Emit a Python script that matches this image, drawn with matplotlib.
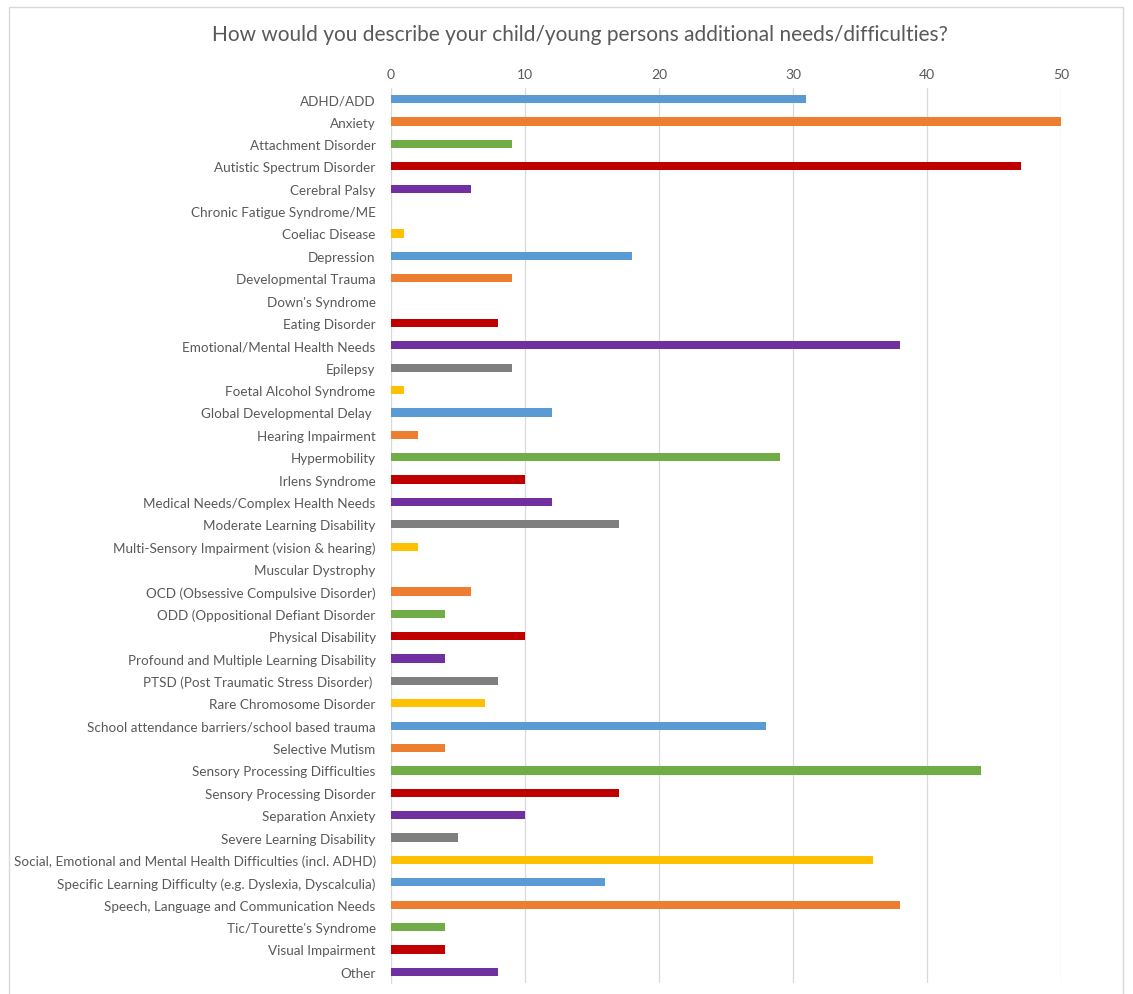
import matplotlib.pyplot as plt
from matplotlib.patches import Rectangle

# Survey answers: number of respondents per additional need / difficulty
categories = [
    "ADHD/ADD", "Anxiety", "Attachment Disorder", "Autistic Spectrum Disorder",
    "Cerebral Palsy", "Chronic Fatigue Syndrome/ME", "Coeliac Disease", "Depression",
    "Developmental Trauma", "Down's Syndrome", "Eating Disorder",
    "Emotional/Mental Health Needs", "Epilepsy", "Foetal Alcohol Syndrome",
    "Global Developmental Delay ", "Hearing Impairment", "Hypermobility",
    "Irlens Syndrome", "Medical Needs/Complex Health Needs",
    "Moderate Learning Disability", "Multi-Sensory Impairment (vision & hearing)",
    "Muscular Dystrophy", "OCD (Obsessive Compulsive Disorder)",
    "ODD (Oppositional Defiant Disorder", "Physical Disability",
    "Profound and Multiple Learning Disability", "PTSD (Post Traumatic Stress Disorder) ",
    "Rare Chromosome Disorder", "School attendance barriers/school based trauma",
    "Selective Mutism", "Sensory Processing Difficulties", "Sensory Processing Disorder",
    "Separation Anxiety", "Severe Learning Disability",
    "Social, Emotional and Mental Health Difficulties (incl. ADHD)",
    "Specific Learning Difficulty (e.g. Dyslexia, Dyscalculia)",
    "Speech, Language and Communication Needs", "Tic/Tourette's Syndrome",
    "Visual Impairment", "Other",
]
counts = [
    31, 50, 9, 47, 6, 0, 1, 18, 9, 0, 8, 38, 9, 1, 12, 2, 29, 10, 12, 17,
    2, 0, 6, 4, 10, 4, 8, 7, 28, 4, 44, 17, 10, 5, 36, 16, 38, 4, 4, 8,
]
x_ticks = [0, 10, 20, 30, 40, 50]

# Excel-style colour cycle
palette = ["#5B9BD5", "#ED7D31", "#70AD47", "#C00000", "#7030A0", "#7F7F7F", "#FFC000"]
colors = [palette[i % len(palette)] for i in range(len(categories))]

plt.rcParams["font.family"] = ["Lato", "DejaVu Sans"]
text_color = "#595959"

fig = plt.figure(figsize=(11.33, 9.95), dpi=100)

# light chart-area border
fig.patches.append(Rectangle((9 / 1133, -0.01), (1123 - 9) / 1133, 1 - 8 / 995 + 0.01,
                             transform=fig.transFigure, fill=False,
                             edgecolor="#D9D9D9", linewidth=1))

ax = fig.add_axes([391 / 1133, 1 - 984 / 995, (1061 - 391) / 1133, (984 - 89) / 995])
y = list(range(len(categories)))
ax.barh(y, counts, height=0.37, color=colors, zorder=3)

ax.set_xlim(0, 50)
ax.set_ylim(len(categories) - 0.5, -0.5)
ax.set_yticks(y)
ax.set_yticklabels(categories, fontsize=9.7, color=text_color)
ax.set_xticks(x_ticks)
ax.xaxis.tick_top()
ax.tick_params(axis="x", length=0, pad=6, labelsize=10, labelcolor=text_color)
ax.tick_params(axis="y", length=0, pad=11)
ax.grid(axis="x", color="#D9D9D9", linewidth=0.9, zorder=0)

for side in ["top", "right", "bottom"]:
    ax.spines[side].set_visible(False)
ax.spines["left"].set_color("#D9D9D9")

fig.text(580 / 1133, 1 - 35 / 995, "How would you describe your child/young persons additional needs/difficulties?",
         ha="center", va="center", fontsize=15, color=text_color)

plt.savefig("out.png", dpi=100)
